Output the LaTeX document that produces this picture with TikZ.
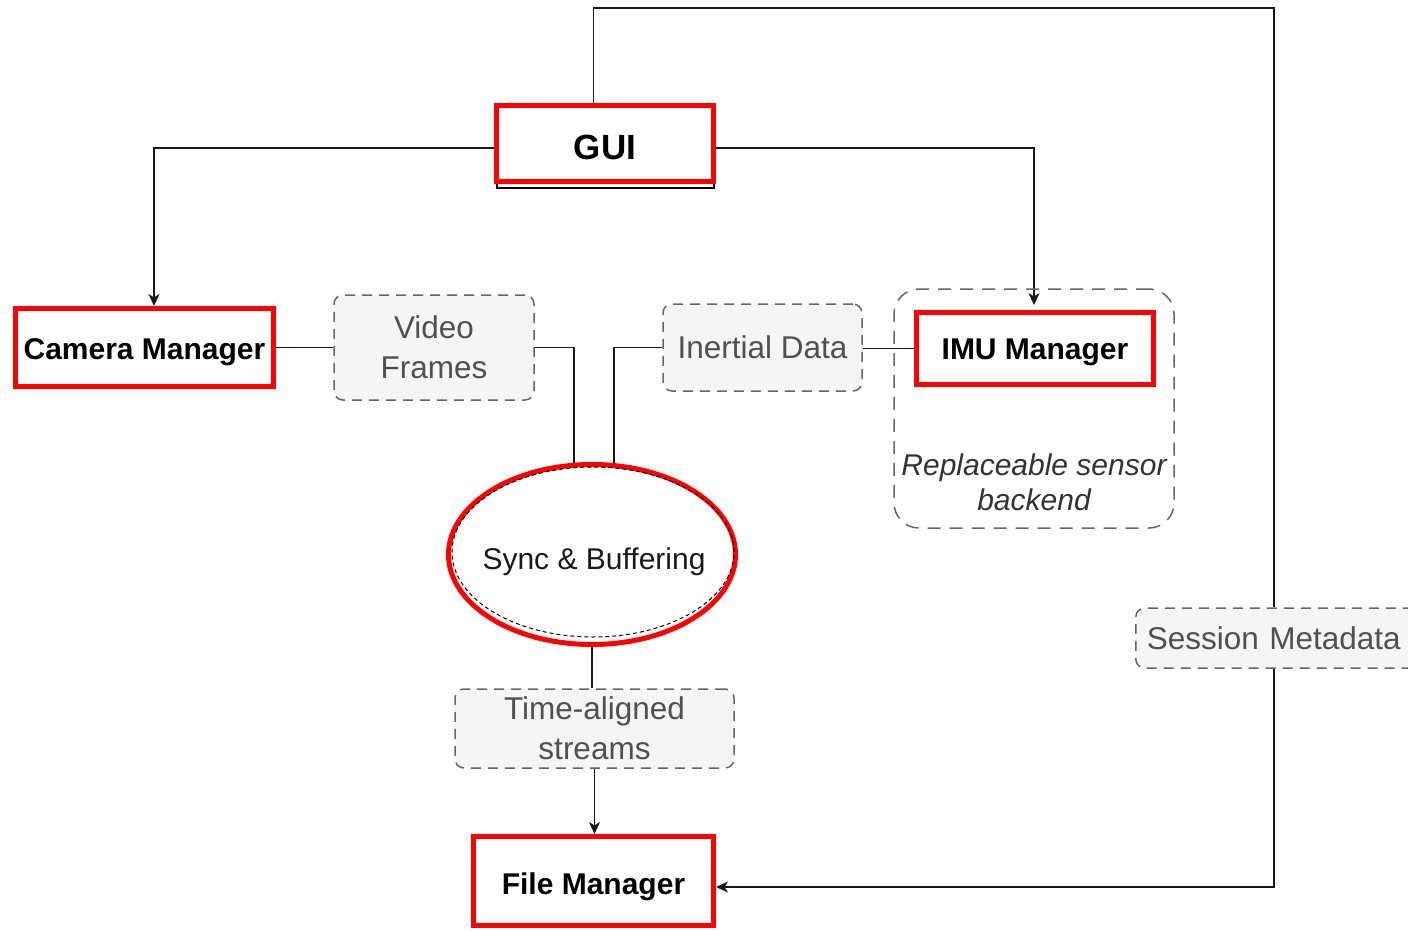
\documentclass[tikz,border=0pt]{standalone}
\usepackage{fontspec}
\setmainfont{Liberation Sans}
\usetikzlibrary{shapes.geometric,arrows.meta,calc,backgrounds}
\definecolor{lblgray}{HTML}{505050}
\definecolor{boxfill}{HTML}{F5F5F5}
\definecolor{dashgray}{HTML}{666666}
\definecolor{redbox}{HTML}{FF0000}
\tikzset{
  redbox/.style={draw=redbox, line width=5pt, fill=white, inner sep=0pt,
    text height=21.5pt, text depth=0pt,
    font=\fontsize{30}{35}\selectfont\bfseries},
  graybox/.style={draw=dashgray, fill=boxfill, line width=1.5pt, rounded corners=9pt,
    dash pattern=on 10pt off 7pt, inner sep=0pt, align=center, text=lblgray,
    font=\fontsize{31.5}{40}\selectfont},
  conn/.style={line width=1.5pt, draw=black!90},
  arr/.style={conn, -{Stealth[length=12pt,width=11pt,inset=3.5pt]}},
}
\begin{document}
\begin{tikzpicture}[x=1pt,y=-1pt]
\useasboundingbox (0,0) rectangle (1408,931);
% container
\node[draw=dashgray, line width=1.5pt, rounded corners=25pt, dash pattern=on 13pt off 9pt,
  minimum width=280pt, minimum height=239pt, inner sep=0pt] (backend) at (1034,408.5) {};
\node[align=center, text=black!80, font=\fontsize{30}{35}\selectfont\itshape] (backendlbl) at (1034,482) {Replaceable sensor\\backend};
% GUI
\draw[line width=1.5pt] (497,107) rectangle (714,188);
\node[redbox, minimum width=217pt, minimum height=76pt, text height=25pt, font=\fontsize{35}{40}\selectfont\bfseries] (gui) at (605,143.5) {\raisebox{-3.5pt}{GUI}};
% managers
\node[redbox, minimum width=258pt, minimum height=78pt] (cam) at (144.5,347.5) {\raisebox{-1.5pt}{Camera Manager}};
\node[redbox, minimum width=237pt, minimum height=72pt] (imu) at (1035,348.5) {IMU Manager};
\node[redbox, minimum width=240pt, minimum height=89pt] (fm) at (593.5,881) {\raisebox{-3pt}{File Manager}};
% gray labels
\node[graybox, minimum width=200pt, minimum height=105pt] (vf) at (434,347.5) {Video\\Frames};
\node[graybox, minimum width=199pt, minimum height=87pt] (inert) at (762.5,347.5) {Inertial Data};
\node[graybox, minimum width=279pt, minimum height=79pt] (ta) at (594.5,728.5) {Time-aligned\\streams};
\node[graybox, anchor=west, text width=281pt, inner xsep=11pt, align=left, minimum height=60pt] (sess) at (1135,638) {Session Metadata};
% sync ellipse
\node[ellipse, draw=redbox, line width=5pt, fill=white, minimum width=287pt, minimum height=180pt, inner sep=0pt] (sync) at (592,554.5) {};
\draw[line width=1pt, dash pattern=on 4pt off 3pt] ($(sync.center)+(1,-2.5)$) ellipse [x radius=141pt, y radius=85pt];
\node[font=\fontsize{30}{35}\selectfont, text=black!90, text height=21.5pt, text depth=0pt] (synclbl) at (594,559) {Sync \& Buffering};
% connectors
\begin{scope}[on background layer]
\coordinate (tr) at (1274,8);
\draw[conn] (gui.north -| fm.north) |- (tr) -- (sess.north -| tr);
\draw[arr] (sess.south -| tr) |- ($(fm.east)+(0,6)$);
\draw[arr] ($(gui.west)+(0,4.5)$) -| ($(cam.north)+(9.5,0)$);
\draw[arr] ($(gui.east)+(0,4.5)$) -| ($(imu.north)+(-1,-5)$);
\draw[conn] (cam.east) -- (cam.east -| vf.west);
\draw[conn] (vf.east) -| ($(sync.north)+(-18,2)$);
\draw[conn] (inert.west) -| ($(sync.north)+(22,2)$);
\draw[conn] (imu.west) -- (imu.west -| inert.east);
\draw[conn] (sync.south) -- (sync.south |- ta.north);
\draw[arr] (ta.south) -- (ta.south |- fm.north);
\end{scope}
\end{tikzpicture}
\end{document}
